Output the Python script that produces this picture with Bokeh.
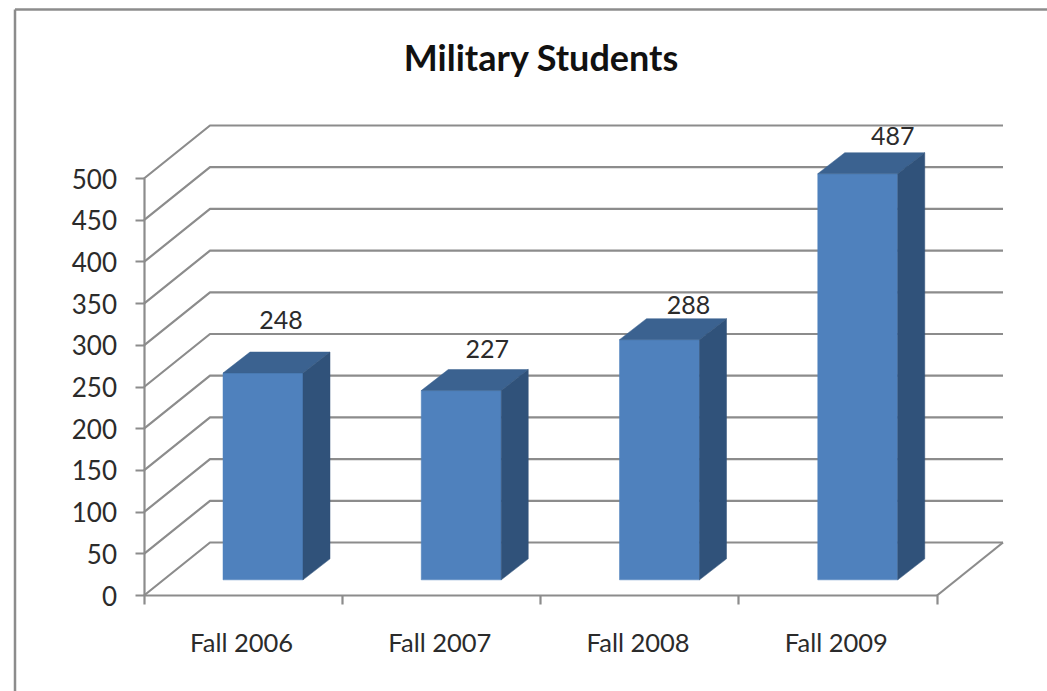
from bokeh.plotting import figure
from bokeh.embed import file_html
from bokeh.resources import INLINE
from bokeh.models import FixedTicker, Range1d, ColumnDataSource
from bokeh.core.properties import value

categories = ["Fall 2006", "Fall 2007", "Fall 2008", "Fall 2009"]
students = [248, 227, 288, 487]
y_ticks = [0, 50, 100, 150, 200, 250, 300, 350, 400, 450, 500]
title_text = "Military Students"

# value-label nudges in pixels (hand placed in the original)
label_dx = [18, 26, 29, 35]
label_dy = [53, 42, 35, 38]

W, H = 1047, 691
PX_PER_CAT = 198.25
PX_PER_VAL = 0.834
X0, Y0 = 143.5, 595         # pixel position of the axes origin inside the figure
FLOOR_DX = 66 / PX_PER_CAT  # depth of the 3-D floor
FLOOR_DY = 53 / PX_PER_VAL
BAR_FRONT = 0.295           # bar front face, as a share of the floor depth
BAR_DX = 27 / PX_PER_CAT    # depth of a bar
BAR_DY = 21 / PX_PER_VAL
BAR_LEFT = 79 / PX_PER_CAT
BAR_W = 80 / PX_PER_CAT
LABEL_NUDGE = -1.5 / PX_PER_CAT

FONT = "Lato"
GREY = "#8c8c8c"
TEXT = "#2b2b2b"
FRONT, TOP, SIDE = "#4f81bd", "#3b6290", "#30527a"


def px_x(px):
    return (px - X0) / PX_PER_CAT


def px_y(py):
    return (Y0 - py) / PX_PER_VAL


p = figure(width=W, height=H, output_backend="svg", toolbar_location=None,
           x_range=Range1d(px_x(0), px_x(W)), y_range=Range1d(px_y(H), px_y(0)),
           min_border=0, outline_line_color=None, background_fill_color="white",
           border_fill_color="white")
p.grid.visible = False

n = len(categories)

# chart border: top and left only, as the reference is cropped
p.line([px_x(14.5), px_x(14.5)], [px_y(H), px_y(9)], line_color=GREY, line_width=2.5)
p.line([px_x(14.5), px_x(W)], [px_y(9), px_y(9)], line_color=GREY, line_width=2.5)

# walls and floor gridlines
for v in y_ticks:
    p.line([0, FLOOR_DX, n + FLOOR_DX], [v, v + FLOOR_DY, v + FLOOR_DY],
           line_color=GREY, line_width=2.2)
p.line([n, n + FLOOR_DX], [0, FLOOR_DY], line_color=GREY, line_width=2.2)

# bars
fx = [i + BAR_LEFT for i in range(n)]
base = FLOOR_DY * BAR_FRONT
dx, dy = BAR_DX, BAR_DY
p.quad(left=fx, right=[x + BAR_W for x in fx], bottom=[base] * n,
       top=[v + base for v in students], fill_color=FRONT, line_color=FRONT, line_width=0.5)
p.patches([[x, x + BAR_W, x + BAR_W + dx, x + dx] for x in fx],
          [[v + base, v + base, v + base + dy, v + base + dy] for v in students],
          fill_color=TOP, line_color=TOP, line_width=0.5)
p.patches([[x + BAR_W, x + BAR_W + dx, x + BAR_W + dx, x + BAR_W] for x in fx],
          [[base, base + dy, v + base + dy, v + base] for v in students],
          fill_color=SIDE, line_color=SIDE, line_width=0.5)

# value labels
src = ColumnDataSource(dict(
    x=[x + BAR_W / 2 for x in fx],
    y=[v + base for v in students],
    t=[str(v) for v in students],
    xo=label_dx,
    yo=[-d for d in label_dy],
))
p.text("x", "y", text="t", source=src, x_offset="xo", y_offset="yo",
       text_font=value(FONT), text_font_size="25px", text_color=TEXT,
       text_align="center", text_baseline="middle")

# title
p.text([px_x(541)], [px_y(56)], text=[title_text], text_font=value(FONT),
       text_font_size="36px", text_font_style="bold", text_color="#111111",
       text_align="center", text_baseline="middle")

# axes
ya = p.yaxis[0]
ya.fixed_location = 0
ya.bounds = (0, 500)
ya.ticker = FixedTicker(ticks=y_ticks)
ya.axis_line_color = GREY
ya.axis_line_width = 2.2
ya.major_tick_line_color = GREY
ya.major_tick_line_width = 2.2
ya.major_tick_out = 9
ya.major_tick_in = 0
ya.minor_tick_line_color = None
ya.major_label_standoff = 18
ya.major_label_text_font = FONT
ya.major_label_text_font_size = "26px"
ya.major_label_text_color = TEXT

xa = p.xaxis[0]
xa.fixed_location = 0
xa.bounds = (0, n)
label_pos = [i + 0.5 + LABEL_NUDGE for i in range(n)]
xa.ticker = FixedTicker(ticks=label_pos, minor_ticks=list(range(n + 1)))
xa.major_label_overrides = {t: c for t, c in zip(label_pos, categories)}
xa.axis_line_color = GREY
xa.axis_line_width = 2.2
xa.major_tick_line_color = None
xa.major_tick_out = 0
xa.major_tick_in = 0
xa.minor_tick_line_color = GREY
xa.minor_tick_line_width = 2.2
xa.minor_tick_out = 9
xa.minor_tick_in = 0
xa.major_label_standoff = 22
xa.major_label_text_font = FONT
xa.major_label_text_font_size = "25.5px"
xa.major_label_text_color = TEXT

open("out.html", "w").write(file_html(p, INLINE))
